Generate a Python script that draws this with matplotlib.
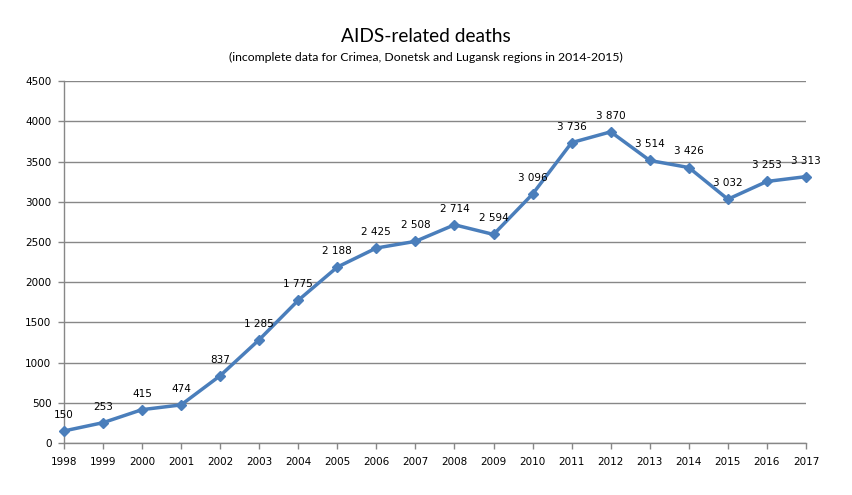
import matplotlib
matplotlib.use("Agg")
from matplotlib import pyplot as plt

years = list(range(1998, 2018))
deaths = [150, 253, 415, 474, 837, 1285, 1775, 2188, 2425, 2508,
          2714, 2594, 3096, 3736, 3870, 3514, 3426, 3032, 3253, 3313]
y_ticks = list(range(0, 5000, 500))

title = "AIDS-related deaths"
subtitle = "(incomplete data for Crimea, Donetsk and Lugansk regions in 2014-2015)"

line_color = "#4A7EBB"
grid_color = "#878787"

fig = plt.figure(figsize=(8.52, 4.95), dpi=100)
ax = fig.add_axes([0.075, 0.105, 0.871, 0.731])

ax.plot(years, deaths, color=line_color, linewidth=2.5, marker="D",
        markersize=5, markerfacecolor=line_color, markeredgecolor=line_color,
        zorder=3, clip_on=False)

for x, y in zip(years, deaths):
    label = f"{y:,}".replace(",", " ")
    ax.annotate(label, (x, y), xytext=(0, 8), textcoords="offset points",
                ha="center", va="bottom", fontsize=7.5, family="DejaVu Sans")

ax.set_xlim(1998, 2017)
ax.set_ylim(0, 4500)
ax.set_xticks(years)
ax.set_yticks(y_ticks)
ax.tick_params(axis="both", labelsize=7.5, color=grid_color, length=4, width=1)
ax.tick_params(axis="x", pad=6)
ax.tick_params(axis="y", pad=5)

ax.grid(axis="y", color=grid_color, linewidth=1)
ax.set_axisbelow(True)
for side in ["top", "right"]:
    ax.spines[side].set_visible(False)
for side in ["left", "bottom"]:
    ax.spines[side].set_color(grid_color)
    ax.spines[side].set_linewidth(1)

fig.text(0.5, 1 - 37 / 495, title, ha="center", va="center",
         fontsize=13.8, family="Lato")
fig.text(0.5, 1 - 57 / 495, subtitle, ha="center", va="center",
         fontsize=8.8, family="Lato")

fig.savefig("out.png", dpi=100)
